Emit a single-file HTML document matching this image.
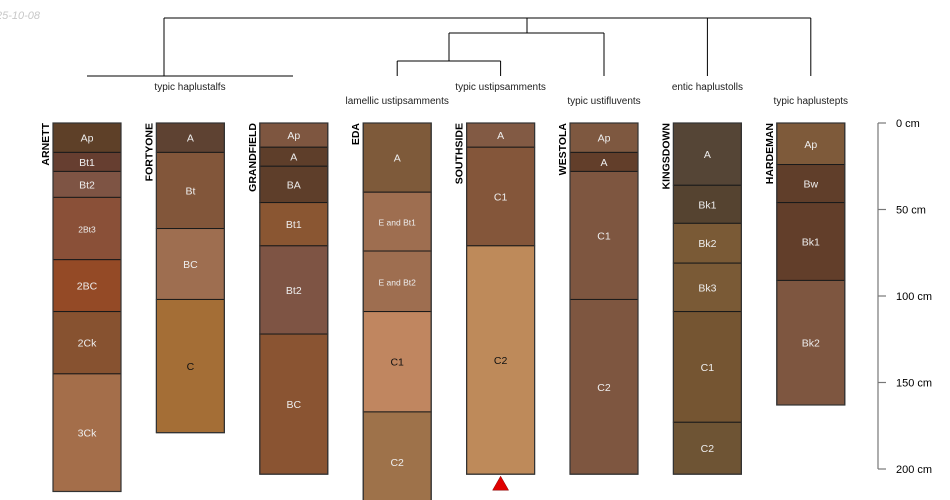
<!DOCTYPE html>
<html><head><meta charset="utf-8">
<style>
html,body{margin:0;padding:0;background:#fff;}
svg{display:block;font-family:"Liberation Sans",sans-serif;}
</style></head>
<body>
<svg id="chart" width="950" height="500" viewBox="0 0 950 500" xmlns="http://www.w3.org/2000/svg">
<text x="-4" y="19" font-size="11" font-style="italic" fill="#c8c8c8">25-10-08</text>
<g id="dendro" stroke="#000" stroke-width="1" fill="none"></g>
<g id="taxa"></g>
<g id="profiles"></g>
<g id="axis"></g>
</svg>
<script>
const profileNames = ["ARNETT","FORTYONE","GRANDFIELD","EDA","SOUTHSIDE","WESTOLA","KINGSDOWN","HARDEMAN"];
const horizonNames = [
 ["Ap","Bt1","Bt2","2Bt3","2BC","2Ck","3Ck"],
 ["A","Bt","BC","C"],
 ["Ap","A","BA","Bt1","Bt2","BC"],
 ["A","E and Bt1","E and Bt2","C1","C2"],
 ["A","C1","C2"],
 ["Ap","A","C1","C2"],
 ["A","Bk1","Bk2","Bk3","C1","C2"],
 ["Ap","Bw","Bk1","Bk2"]
];
const horizonDepths = [
 [0,17,28,43,79,109,145,213],
 [0,17,61,102,179],
 [0,14,25,46,71,122,203],
 [0,40,74,109,167,225],
 [0,14,71,203],
 [0,17,28,102,203],
 [0,36,58,81,109,173,203],
 [0,24,46,91,163]
];
const horizonColors = [
 ["#5e4028","#663e30","#7e5444","#8a5038","#944a26","#875230","#a46e4a"],
 ["#5e4232","#82563a","#9e6e50","#a46e36"],
 ["#7e5640","#5e3e2a","#5e3e2a","#8a5632","#7e5444","#8a5432"],
 ["#7e5a3a","#9e6e50","#9e6e50","#c08660","#9e724a"],
 ["#825a44","#84563a","#be8a5a"],
 ["#7e5840","#623e2a","#7e5640","#7e5640"],
 ["#554536","#554330","#7a5a36","#7a5a36","#755532","#6e5434"],
 ["#7e5a3a","#603e2a","#623e2a","#7e5640"]
];
const darkText = [[],[3],[],[3],[2],[],[],[]];
const smallText = [[3],[],[],[1,2],[],[],[],[]];
const axisTicks = [0,50,100,150,200];
const taxaLabels = ["typic haplustalfs","lamellic ustipsamments","typic ustipsamments","typic ustifluvents","entic haplustolls","typic haplustepts"];

const NS="http://www.w3.org/2000/svg";
const y0=123, pxPerCm=1.73;
const yS=d=>y0+d*pxPerCm;
const xS=i=>53+i*103.4;
const W=68;
function mk(tag,attrs,parent){const e=document.createElementNS(NS,tag);for(const k in attrs)e.setAttribute(k,attrs[k]);parent.appendChild(e);return e;}

const P=document.getElementById('profiles');
profileNames.forEach((name,i)=>{
  const g=mk('g',{},P);
  
  
  const x=xS(i), dd=horizonDepths[i];
  horizonNames[i].forEach((h,j)=>{
    const ya=yS(dd[j]), yb=yS(dd[j+1]);
    const r=mk('rect',{x:x,y:ya,width:W,height:yb-ya,fill:horizonColors[i][j],stroke:'#1a1a1a','stroke-width':1},g);
    
    
    const t=mk('text',{x:x+W/2,y:(ya+yb)/2+4,'text-anchor':'middle','font-size':smallText[i].includes(j)?8.5:10.5,fill:darkText[i].includes(j)?'#111':'#eee'},g);
    t.textContent=h;
    
    
  });
  const bot=yS(dd[dd.length-1]);
  const o=mk('rect',{x:x,y:y0,width:W,height:bot-y0,fill:'none',stroke:'#333','stroke-width':1.2},g);
  
  
  const n=mk('text',{transform:`translate(${x-4},${y0}) rotate(-90)`,'text-anchor':'end','font-size':10.5,'font-weight':'bold',fill:'#000'},g);
  n.textContent=name;
  
  
});
const tri=mk('polygon',{points:`${xS(4)+W/2},${yS(203)+2} ${xS(4)+W/2-8},${yS(203)+16} ${xS(4)+W/2+8},${yS(203)+16}`,fill:'#e00000',stroke:'#800','stroke-width':0.5},P);



const A=document.getElementById('axis');
mk('line',{x1:878,y1:yS(0),x2:878,y2:yS(200),stroke:'#777','stroke-width':1.2},A);
axisTicks.forEach(v=>{
  mk('line',{x1:878,y1:yS(v),x2:886,y2:yS(v),stroke:'#777','stroke-width':1.2},A);
  const t=mk('text',{x:896,y:yS(v)+4,'font-size':11,fill:'#000'},A);
  t.textContent=v+' cm';
  
  
});

const D=document.getElementById('dendro');
const c=i=>xS(i)+W/2;
const segs=[
 [164,18,c(7),18],[164,18,164,76],[87,76,293,76],
 [527,18,527,33],[449,33,c(5),33],[449,33,449,61],
 [c(3),61,c(4),61],[c(3),61,c(3),76],[c(4),61,c(4),76],[c(5),33,c(5),76],
 [c(6),18,c(6),76],[c(7),18,c(7),76]
];
segs.forEach(s=>mk('line',{x1:s[0],y1:s[1],x2:s[2],y2:s[3]},D));
const T=document.getElementById('taxa');
const taxaPos=[[190,90],[c(3),104],[c(4),90],[c(5),104],[c(6),90],[c(7),104]];
taxaLabels.forEach((l,i)=>{
  const t=mk('text',{x:taxaPos[i][0],y:taxaPos[i][1],'text-anchor':'middle','font-size':10,fill:'#222'},T);
  t.textContent=l;
  
  
});
</script>
</body></html>
